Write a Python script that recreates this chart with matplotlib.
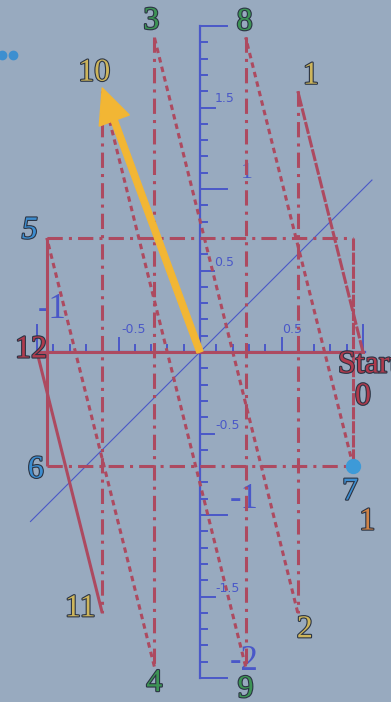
import numpy as np
import matplotlib.pyplot as plt
import matplotlib.patheffects as pe
from matplotlib.patches import FancyArrowPatch

# orbit points, numbered 0..12 in the order they are visited
orbit_x = [1.0, 0.6, 0.6, -0.28, -0.28, -0.94, -0.94, 0.94, 0.28, 0.28, -0.6, -0.6, -1.0]
orbit_y = [0.0, 1.6, -1.6, 1.93, -1.93, 0.7, -0.7, -0.7, 1.93, -1.93, 1.6, -1.6, 0.0]
# how the segment from point i to point i+1 is drawn
seg_style = ['dense', 'dashdot', 'dash', 'dashdot', 'dash', 'solid',
             'dashdot', 'dash', 'dashdot', 'dash', 'dashdot', 'solid']
# the upper right corner of the box (mirror of point 6)
corner_x, corner_y = 0.94, 0.7
# the line y = x
diag_x = [-1.04, 1.055]
# blue axis ticks
xticks = np.round(np.arange(-1.0, 1.01, 0.1), 1)
yticks = np.round(np.arange(-2.0, 2.01, 0.1), 1)
# point labels: text, colour, offset in pixels from the point
point_labels = ['', '1', '2', '3', '4', '5', '6', '7', '8', '9', '10', '11', '12']
label_colors = ['', 'yellow', 'yellow', 'green', 'green', 'blue', 'blue', 'blue',
                'green', 'green', 'yellow', 'yellow', 'red']
label_offsets = [(0, 0), (13, 15), (7, -17), (-3, 16), (0, -17), (-17, 7), (-11, -4),
                 (-3, -26), (-1, 15), (0, -23), (-8, 18), (-22, 4), (-6, 2)]
stray_dots_x = [-1.215, -1.147]
stray_dots_y = [1.822, 1.822]

BG = '#98aabf'
RED = '#ad4a60'
AXBLUE = '#4a58c8'
COLORS = {'yellow': '#cdb55c', 'green': '#3d9455', 'blue': '#3c8dd0',
          'red': '#b03a4c', 'orange': '#cf8245'}
SCALE = 163.0  # pixels per unit

fig = plt.figure(figsize=(3.91, 7.02), dpi=100)
fig.patch.set_facecolor(BG)
ax = fig.add_axes([0, 0, 1, 1])
ax.set_facecolor(BG)
ax.set_xlim(-200 / SCALE, 191 / SCALE)
ax.set_ylim(-350 / SCALE, 352 / SCALE)
ax.axis('off')

# blue axes
ax.plot([0, 0], [yticks[0], yticks[-1]], color=AXBLUE, lw=1.6, zorder=2)
ax.plot([xticks[0], xticks[-1] + 0.01], [0, 0], color=AXBLUE, lw=1.6, zorder=2)


def tick_len(v):
    a = abs(v)
    if a in (1.0, 2.0):
        return 0.165
    if a == 1.5:
        return 0.09
    if a == 0.5:
        return 0.085
    return 0.042


for v in yticks:
    if v == 0:
        continue
    ax.plot([0, tick_len(v)], [v, v], color=AXBLUE, lw=1.4, zorder=2)
for v in xticks:
    if v == 0:
        continue
    ax.plot([v, v], [0, tick_len(v)], color=AXBLUE, lw=1.4, zorder=2)

small = dict(color=AXBLUE, fontsize=9, family='DejaVu Sans', ha='center', va='center', zorder=2)
ax.text(0.153, 1.558, '1.5', **small)
ax.text(0.147, 0.552, '0.5', **small)
ax.text(0.17, -0.448, '-0.5', **small)
ax.text(0.17, -1.448, '-1.5', **small)
ax.text(-0.41, 0.135, '-0.5', **small)
ax.text(0.565, 0.135, '0.5', **small)
big = dict(color=AXBLUE, fontsize=25, family='Liberation Serif', ha='center', va='center', zorder=2)
ax.text(0.27, -0.905, '-1', **big)
ax.text(0.27, -1.9, '-2', **big)
ax.text(-0.905, 0.26, '-1', **big)
ax.text(0.29, 1.1, '1', color=AXBLUE, fontsize=17, family='Liberation Serif',
        ha='center', va='center', zorder=2)

# diagonal y = x
ax.plot(diag_x, diag_x, color=AXBLUE, lw=0.8, zorder=3)

# red orbit
styles = {
    'solid': dict(linestyle='-'),
    'dense': dict(dashes=(4, 0.6)),
    'dash': dict(dashes=(1.8, 1.4)),
    'dashdot': dict(dashes=(5, 2, 1, 2)),
}
for i, st in enumerate(seg_style):
    ax.plot(orbit_x[i:i + 2], orbit_y[i:i + 2], color=RED, lw=2.2,
            solid_capstyle='butt', dash_capstyle='butt', zorder=4, **styles[st])
# closing horizontal 12 -> start
ax.plot([orbit_x[12], orbit_x[0]], [orbit_y[12], orbit_y[0]], color=RED, lw=2.2, zorder=4)
# top and right of the box
ax.plot([orbit_x[5], corner_x], [orbit_y[5], corner_y], color=RED, lw=2.2,
        zorder=4, **styles['dashdot'])
ax.plot([corner_x, orbit_x[7]], [corner_y, orbit_y[7]], color=RED, lw=2.2,
        zorder=4, **styles['dense'])

# marker at point 7 and stray dots
ax.plot(orbit_x[7], orbit_y[7], 'o', color='#3d9ad8', ms=10, zorder=6)
ax.plot(stray_dots_x, stray_dots_y, 'o', color='#3d8fd0', ms=6, zorder=6)

# yellow arrow to point 10
arrow = FancyArrowPatch((0, 0), (orbit_x[10], orbit_y[10] + 0.02),
                        arrowstyle='simple,head_length=2.5,head_width=2.3,tail_width=0.45',
                        mutation_scale=10, color='#f2b634', shrinkA=0, shrinkB=0, zorder=7)
ax.add_patch(arrow)

# point labels
outline = [pe.withStroke(linewidth=1.6, foreground='#2b3444')]
for i in range(1, len(point_labels)):
    ax.annotate(point_labels[i], (orbit_x[i], orbit_y[i]), xytext=label_offsets[i],
                textcoords='offset pixels', ha='center', va='center',
                fontsize=23, family='Liberation Serif', color=COLORS[label_colors[i]],
                style='italic' if i == 5 else 'normal',
                path_effects=outline, zorder=8)
ax.annotate('Start', (orbit_x[0], orbit_y[0]), xytext=(-25, -13), textcoords='offset pixels',
            ha='left', va='center', fontsize=23, family='Liberation Serif',
            color=COLORS['red'], path_effects=outline, zorder=8)
ax.annotate('0', (orbit_x[0], orbit_y[0]), xytext=(0, -45), textcoords='offset pixels',
            ha='center', va='center', fontsize=23, family='Liberation Serif',
            color=COLORS['red'], path_effects=outline, zorder=8)
ax.annotate('1', (orbit_x[7], orbit_y[7]), xytext=(14, -56), textcoords='offset pixels',
            ha='center', va='center', fontsize=23, family='Liberation Serif',
            color=COLORS['orange'], path_effects=outline, zorder=8)

fig.savefig('out.png', dpi=100, facecolor=BG)
